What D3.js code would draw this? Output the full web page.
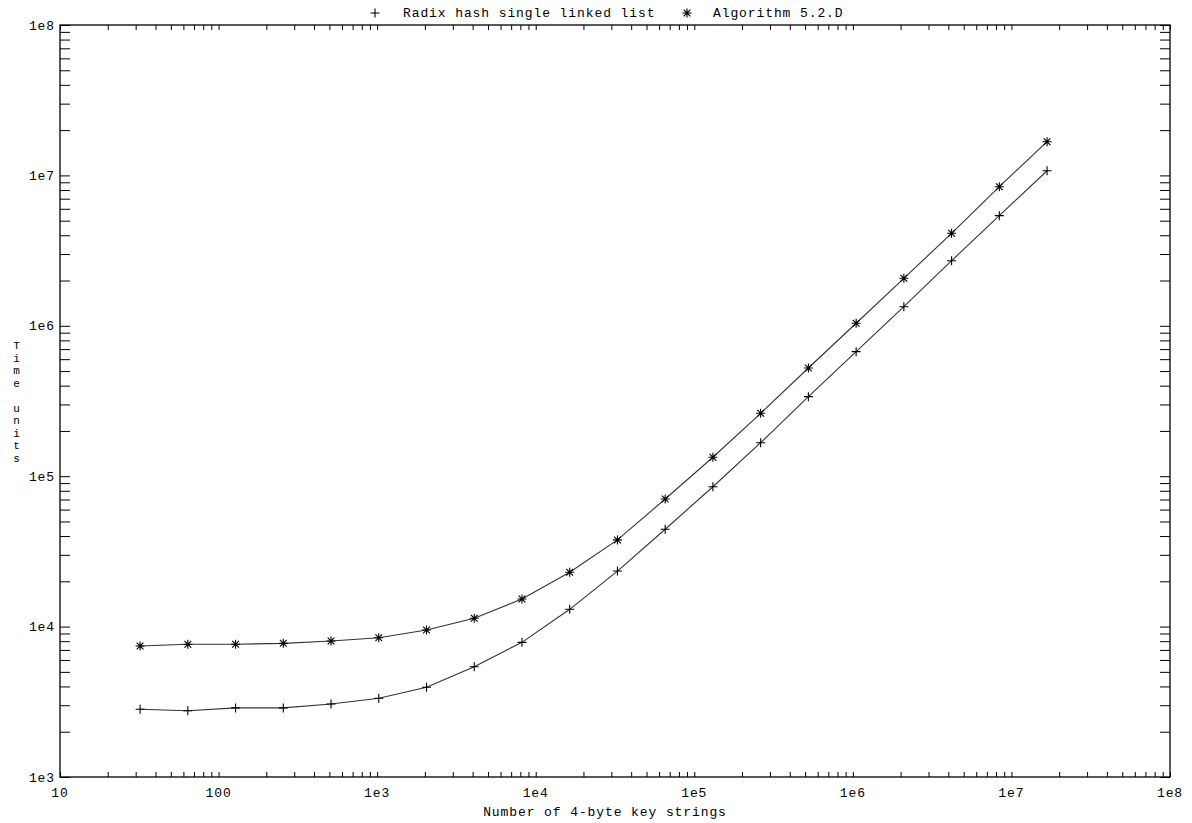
<!DOCTYPE html>
<html>
<head>
<meta charset="utf-8">
<script src="https://cdn.jsdelivr.net/npm/d3@7"></script>
<style>
  body { margin: 0; background: #fff; }
  text { font-family: "Liberation Mono", "DejaVu Sans Mono", monospace; font-size: 13px; fill: #000; letter-spacing: 0.9px; }
</style>
</head>
<body>
<div id="graph_here"></div>
<script>
// number of keys: powers of two 2^5 .. 2^24
const keyCounts = [32, 64, 128, 256, 512, 1024, 2048, 4096, 8192, 16384, 32768, 65536,
  131072, 262144, 524288, 1048576, 2097152, 4194304, 8388608, 16777216];
// time units
const radixTimes = [2820, 2760, 2880, 2880, 3060, 3340, 3950, 5410, 7860, 13030, 23400, 44400,
  85100, 167000, 338000, 673000, 1340000, 2710000, 5400000, 10740000];
const algoTimes = [7430, 7630, 7630, 7740, 8020, 8440, 9490, 11360, 15260, 23000, 37700, 70500,
  133600, 262000, 524000, 1040000, 2070000, 4120000, 8410000, 16750000];
const seriesNames = ["Radix hash single linked list", "Algorithm 5.2.D"];
const xTickLabels = ["10", "100", "1e3", "1e4", "1e5", "1e6", "1e7", "1e8"];
const yTickLabels = ["1e3", "1e4", "1e5", "1e6", "1e7", "1e8"];
const xLabel = "Number of 4-byte key strings";
const yLabel = "Time units";

function drawChart(){
    const width = 1192, height = 823;
    const margin = {left: 60, right: 22, top: 25, bottom: 46};

    const svg = d3.select('#graph_here')
      .append('svg')
      .attr('width', width)
      .attr('height', height);

    const xScale = d3.scaleLog().domain([10, 1e8]).range([margin.left, width - margin.right]);
    const yScale = d3.scaleLog().domain([1e3, 1e8]).range([height - margin.bottom, margin.top]);

    // tick values: every integer multiple inside each decade
    function logTicks(lo, hi){
        const t = [];
        for (let e = lo; e < hi; e++) for (let m = 1; m < 10; m++) t.push(m * Math.pow(10, e));
        t.push(Math.pow(10, hi));
        return t;
    }
    const xTicks = logTicks(1, 8);
    const yTicks = logTicks(3, 8);

    svg.append('rect')
      .attr('x', xScale(10)).attr('y', yScale(1e8))
      .attr('width', xScale(1e8) - xScale(10))
      .attr('height', yScale(1e3) - yScale(1e8))
      .attr('fill', 'none').attr('stroke', '#000').attr('stroke-width', 1.3);

    // inward ticks on all four sides
    const xA = d3.axisTop(xScale).tickValues(xTicks).tickSize(5).tickFormat('');
    const xB = d3.axisBottom(xScale).tickValues(xTicks).tickSize(5).tickFormat('');
    const yL = d3.axisRight(yScale).tickValues(yTicks).tickSize(10).tickFormat('');
    const yR = d3.axisLeft(yScale).tickValues(yTicks).tickSize(10).tickFormat('');
    [[xA, 'translate(0,' + yScale(1e3) + ')'], [xB, 'translate(0,' + yScale(1e8) + ')'],
     [yL, 'translate(' + xScale(10) + ',0)'], [yR, 'translate(' + xScale(1e8) + ',0)']]
      .forEach(function(a){
          const g = svg.append('g').attr('transform', a[1]).call(a[0]);
          g.select('.domain').remove();
          g.selectAll('line').attr('stroke', '#000').attr('stroke-width', 1);
      });

    // tick labels
    svg.selectAll('.xlab')
      .data(xTickLabels).enter().append('text')
      .attr('x', (d, i) => xScale(Math.pow(10, i + 1)))
      .attr('y', yScale(1e3) + 20)
      .attr('text-anchor', 'middle')
      .text(d => d);
    svg.selectAll('.ylab')
      .data(yTickLabels).enter().append('text')
      .attr('x', xScale(10) - 5)
      .attr('y', (d, i) => yScale(Math.pow(10, i + 3)) + 4.5)
      .attr('text-anchor', 'end')
      .text(d => d);

    svg.append('text')
      .attr('x', 605).attr('y', yScale(1e3) + 39)
      .attr('text-anchor', 'middle')
      .text(xLabel);

    // vertical stacked y label, one letter per line
    svg.append('text')
      .attr('text-anchor', 'middle')
      .style('font-size', '11px')
      .selectAll('tspan')
      .data(yLabel.split('')).enter().append('tspan')
      .attr('x', 17)
      .attr('y', (d, i) => 349 + i * 12.5)
      .text(d => d);

    // markers
    function plusPath(s){ return 'M' + (-s) + ',0H' + s + 'M0,' + (-s) + 'V' + s; }
    function starPath(s){
        const d = s * 0.75;
        return plusPath(s) + 'M' + (-d) + ',' + (-d) + 'L' + d + ',' + d + 'M' + (-d) + ',' + d + 'L' + d + ',' + (-d);
    }

    const line = d3.line()
      .x(d => xScale(d[0]))
      .y(d => yScale(d[1]));

    const series = [
        {name: seriesNames[0], values: radixTimes, marker: plusPath(4.5)},
        {name: seriesNames[1], values: algoTimes, marker: starPath(4.5)}
    ];

    series.forEach(function(s){
        const pts = keyCounts.map((k, i) => [k, s.values[i]]);
        svg.append('path')
          .attr('d', line(pts))
          .attr('fill', 'none')
          .attr('stroke', '#333')
          .attr('stroke-width', 1.1);
        svg.append('g').selectAll('path')
          .data(pts).enter().append('path')
          .attr('transform', d => 'translate(' + xScale(d[0]) + ',' + yScale(d[1]) + ')')
          .attr('d', s.marker)
          .attr('stroke', '#000')
          .attr('stroke-width', 1.1)
          .attr('fill', 'none');
    });

    // legend at top
    const legend = svg.append('g');
    const legendPos = [{mx: 375, tx: 403}, {mx: 687, tx: 713}];
    series.forEach(function(s, i){
        legend.append('path')
          .attr('transform', 'translate(' + legendPos[i].mx + ',13)')
          .attr('d', s.marker)
          .attr('stroke', '#000').attr('stroke-width', 1.1).attr('fill', 'none');
        legend.append('text')
          .attr('x', legendPos[i].tx).attr('y', 17)
          .text(s.name);
    });
}

window.addEventListener('load', drawChart);
</script>
</body>
</html>
